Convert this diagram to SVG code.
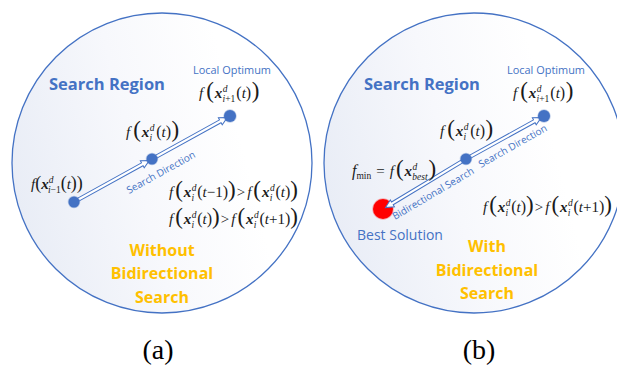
<svg xmlns="http://www.w3.org/2000/svg" width="617" height="366" viewBox="0 0 617 366">
<defs>
<linearGradient id="bg" x1="0" y1="0.55" x2="1" y2="0.3">
<stop offset="0" stop-color="#e9edf6"/>
<stop offset="0.4" stop-color="#f7f8fc"/>
<stop offset="0.75" stop-color="#ffffff"/>
</linearGradient>
<style>
.region{fill:url(#bg);stroke:#4472c4;stroke-width:1.3}
.dot{fill:#4472c4;stroke:#4472c4;stroke-opacity:0.35;stroke-width:1.5}
.best{fill:#ff0000;stroke:#ff0000;stroke-opacity:0.3;stroke-width:1.5}
.arrow{fill:#fff;stroke:#4472c4;stroke-width:1}
.title{font-family:"Open Sans","Noto Sans",sans-serif;font-weight:bold;font-size:16.5px;fill:#4472c4}
.lbl{font-family:"Open Sans","Noto Sans",sans-serif;font-size:11.5px;fill:#4472c4}
.dir{font-family:"Open Sans","Noto Sans",sans-serif;font-size:10px;fill:#4472c4}
.cap{font-family:"Open Sans","Noto Sans",sans-serif;font-weight:bold;font-size:16px;fill:#ffc000;text-anchor:middle}
.mt{font-family:"Liberation Serif","Times New Roman",serif;font-size:15px;fill:#1a1a1a}
.it{font-style:italic}
.bi{font-style:italic;font-weight:bold}
.sm{font-size:9.5px;font-style:italic}
.sr{font-size:9.5px;font-style:normal}
.bp{font-size:23px}
.ip{font-size:16px}
.mp{font-size:18px}
.sub{font-family:"Liberation Serif","Times New Roman",serif;font-size:28px;fill:#000;text-anchor:middle}
</style>
</defs>

<g id="region-a"><circle class="region" cx="162" cy="163" r="150"/></g>
<g id="region-b"><circle class="region" cx="474" cy="163" r="150"/></g>

<g id="best-solution-dot"><circle class="best" cx="383" cy="209" r="10"/></g>

<g id="connectors">
<path class="arrow" transform="translate(74,202) rotate(-28.9)" d="M0,-1.6 H78 V-4 L86,0 L78,4 V1.6 H0 Z"/>
<path class="arrow" transform="translate(152,159) rotate(-28.9)" d="M0,-1.6 H78 V-4 L86,0 L78,4 V1.6 H0 Z"/>
<path class="arrow" transform="translate(466,159) rotate(-28.9)" d="M0,-1.6 H78 V-4 L86,0 L78,4 V1.6 H0 Z"/>
<path class="arrow" transform="translate(466,159) rotate(148.9)" d="M0,-1.6 H86 V-4 L94,0 L86,4 V1.6 H0 Z"/>
</g>

<g id="dot-a-prev"><circle class="dot" cx="74" cy="202" r="5.5"/></g>
<g id="dot-a-cur"><circle class="dot" cx="152" cy="159" r="5.5"/></g>
<g id="dot-a-next"><circle class="dot" cx="230" cy="116" r="6"/></g>
<g id="dot-b-cur"><circle class="dot" cx="466" cy="159" r="5.5"/></g>
<g id="dot-b-next"><circle class="dot" cx="544" cy="116" r="6"/></g>

<g id="labels-a">
<text class="title" x="49" y="90">Search Region</text>
<text class="lbl" x="193" y="74" textLength="78" lengthAdjust="spacingAndGlyphs">Local Optimum</text>
<text class="dir" transform="translate(129,194) rotate(-29)">Search Direction</text>
<text class="mt" x="199" y="98"><tspan class="it">f</tspan><tspan class="bp" dx="3">(</tspan><tspan class="bi" dx="1">x</tspan><tspan class="sm" dx="0.5" dy="-6.5">d</tspan><tspan class="sm" dx="-5" dy="10">i</tspan><tspan class="sr">+1</tspan><tspan class="ip" dx="1" dy="-3.5">(</tspan><tspan class="it">t</tspan><tspan class="ip">)</tspan><tspan class="bp" dx="0.5">)</tspan></text>
<text class="mt" x="126" y="137"><tspan class="it">f</tspan><tspan class="bp" dx="3">(</tspan><tspan class="bi" dx="1">x</tspan><tspan class="sm" dx="0.5" dy="-6.5">d</tspan><tspan class="sm" dx="-5" dy="10">i</tspan><tspan class="ip" dx="4" dy="-3.5">(</tspan><tspan class="it">t</tspan><tspan class="ip">)</tspan><tspan class="bp" dx="0.5">)</tspan></text>
<text class="mt" x="31" y="189"><tspan class="it">f</tspan><tspan class="mp">(</tspan><tspan class="bi">x</tspan><tspan class="sm" dy="-6.5">d</tspan><tspan class="sm" dx="-5.5" dy="10">i</tspan><tspan class="sr">−1</tspan><tspan class="mp" dy="-3.5">(</tspan><tspan class="it">t</tspan><tspan class="mp">)</tspan><tspan class="mp">)</tspan></text>
<text class="mt" x="169" y="197"><tspan class="it">f</tspan><tspan class="bp" dx="2">(</tspan><tspan class="bi" dx="1">x</tspan><tspan class="sm" dx="0.5" dy="-6.5">d</tspan><tspan class="sm" dx="-5" dy="10">i</tspan><tspan class="ip" dx="3" dy="-3.5">(</tspan><tspan class="it">t</tspan><tspan>−1</tspan><tspan class="ip">)</tspan><tspan class="bp">)</tspan><tspan dx="1">&gt;</tspan><tspan class="it" dx="2">f</tspan><tspan class="bp" dx="2">(</tspan><tspan class="bi" dx="1">x</tspan><tspan class="sm" dx="0.5" dy="-6.5">d</tspan><tspan class="sm" dx="-5" dy="10">i</tspan><tspan class="ip" dx="3" dy="-3.5">(</tspan><tspan class="it">t</tspan><tspan class="ip">)</tspan><tspan class="bp">)</tspan></text>
<text class="mt" x="169" y="224"><tspan class="it">f</tspan><tspan class="bp" dx="2">(</tspan><tspan class="bi" dx="1">x</tspan><tspan class="sm" dx="0.5" dy="-6.5">d</tspan><tspan class="sm" dx="-5" dy="10">i</tspan><tspan class="ip" dx="3" dy="-3.5">(</tspan><tspan class="it">t</tspan><tspan class="ip">)</tspan><tspan class="bp">)</tspan><tspan dx="1">&gt;</tspan><tspan class="it" dx="2">f</tspan><tspan class="bp" dx="2">(</tspan><tspan class="bi" dx="1">x</tspan><tspan class="sm" dx="0.5" dy="-6.5">d</tspan><tspan class="sm" dx="-5" dy="10">i</tspan><tspan class="ip" dx="3" dy="-3.5">(</tspan><tspan class="it">t</tspan><tspan>+1</tspan><tspan class="ip">)</tspan><tspan class="bp">)</tspan></text>
<text class="cap" x="162" y="256">Without</text>
<text class="cap" x="162" y="279">Bidirectional</text>
<text class="cap" x="162" y="303">Search</text>
<text class="sub" x="158" y="359">(a)</text>
</g>

<g id="labels-b">
<text class="title" x="364" y="90">Search Region</text>
<text class="lbl" x="507" y="74" textLength="78" lengthAdjust="spacingAndGlyphs">Local Optimum</text>
<text class="dir" transform="translate(481,168) rotate(-29.5)">Search Direction</text>
<text class="dir" transform="translate(395,220) rotate(-30.5)">Bidirectional Search</text>
<text class="mt" x="513" y="98"><tspan class="it">f</tspan><tspan class="bp" dx="3">(</tspan><tspan class="bi" dx="1">x</tspan><tspan class="sm" dx="0.5" dy="-6.5">d</tspan><tspan class="sm" dx="-5" dy="10">i</tspan><tspan class="sr">+1</tspan><tspan class="ip" dx="1" dy="-3.5">(</tspan><tspan class="it">t</tspan><tspan class="ip">)</tspan><tspan class="bp" dx="0.5">)</tspan></text>
<text class="mt" x="440" y="136"><tspan class="it">f</tspan><tspan class="bp" dx="3">(</tspan><tspan class="bi" dx="1">x</tspan><tspan class="sm" dx="0.5" dy="-6.5">d</tspan><tspan class="sm" dx="-5" dy="10">i</tspan><tspan class="ip" dx="4" dy="-3.5">(</tspan><tspan class="it">t</tspan><tspan class="ip">)</tspan><tspan class="bp" dx="0.5">)</tspan></text>
<text class="mt" x="352" y="176"><tspan class="it" style="font-size:16px">f</tspan><tspan class="sr" dy="3">min</tspan><tspan dx="5" dy="-3">=</tspan><tspan class="it" dx="5">f</tspan><tspan class="bp" dx="2">(</tspan><tspan class="bi" dx="1">x</tspan><tspan class="sm" dx="0.5" dy="-6.5">d</tspan><tspan class="sm" dx="-5" dy="10">best</tspan><tspan class="bp" dx="1" dy="-3.5">)</tspan></text>
<text class="mt" x="483" y="212"><tspan class="it">f</tspan><tspan class="bp" dx="2">(</tspan><tspan class="bi" dx="1">x</tspan><tspan class="sm" dx="0.5" dy="-6.5">d</tspan><tspan class="sm" dx="-5" dy="10">i</tspan><tspan class="ip" dx="3" dy="-3.5">(</tspan><tspan class="it">t</tspan><tspan class="ip">)</tspan><tspan class="bp">)</tspan><tspan dx="1">&gt;</tspan><tspan class="it" dx="2">f</tspan><tspan class="bp" dx="2">(</tspan><tspan class="bi" dx="1">x</tspan><tspan class="sm" dx="0.5" dy="-6.5">d</tspan><tspan class="sm" dx="-5" dy="10">i</tspan><tspan class="ip" dx="3" dy="-3.5">(</tspan><tspan class="it">t</tspan><tspan>+1</tspan><tspan class="ip">)</tspan><tspan class="bp">)</tspan></text>
<text x="357" y="240" style="font-family:'Open Sans','Noto Sans',sans-serif;font-size:14px;fill:#4472c4">Best Solution</text>
<text class="cap" x="487" y="252">With</text>
<text class="cap" x="487" y="276">Bidirectional</text>
<text class="cap" x="487" y="299">Search</text>
<text class="sub" x="479" y="359">(b)</text>
</g>
</svg>
